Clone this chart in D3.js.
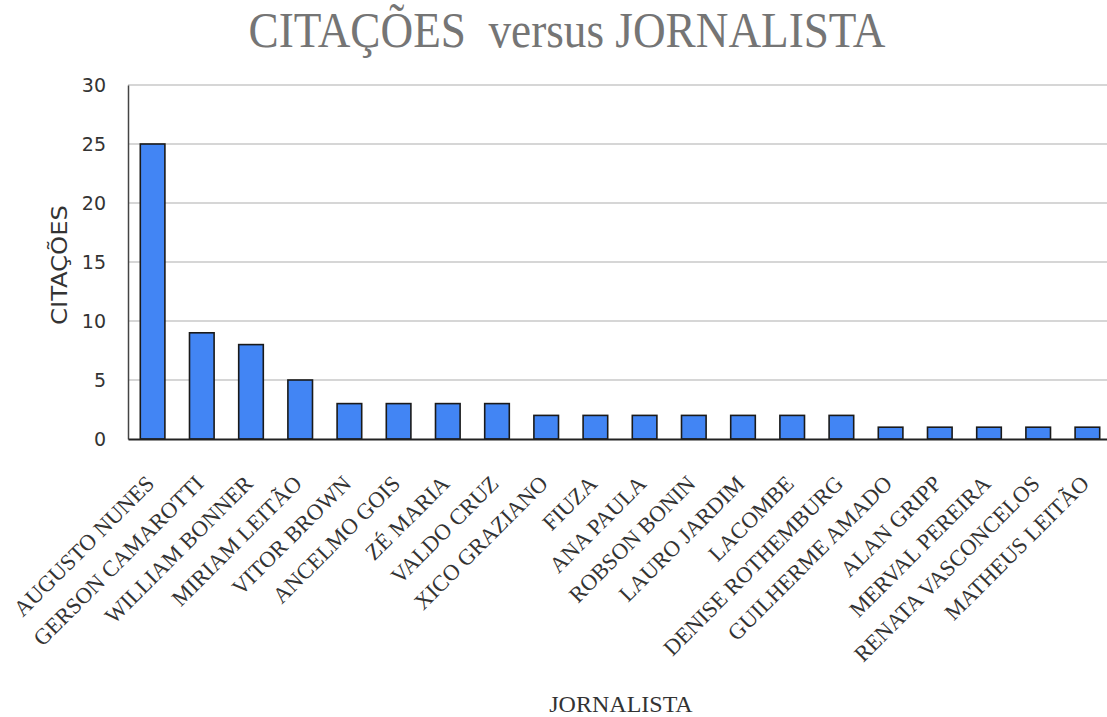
<!DOCTYPE html>
<html><head><meta charset="utf-8">
<script src="https://cdn.jsdelivr.net/npm/d3@7"></script>
<style>body{margin:0;background:#fff}svg{display:block}</style>
</head><body>
<svg id="c" width="1107" height="717"></svg>
<script>
const categories = ["AUGUSTO NUNES","GERSON CAMAROTTI","WILLIAM BONNER","MIRIAM LEITÃO","VITOR BROWN","ANCELMO GOIS","ZÉ MARIA","VALDO CRUZ","XICO GRAZIANO","FIUZA","ANA PAULA","ROBSON BONIN","LAURO JARDIM","LACOMBE","DENISE ROTHEMBURG","GUILHERME AMADO","ALAN GRIPP","MERVAL PEREIRA","RENATA VASCONCELOS","MATHEUS LEITÃO"];
const values = [25,9,8,5,3,3,3,3,2,2,2,2,2,2,2,1,1,1,1,1];
const yTicks = [0,5,10,15,20,25,30];
const title = "CITAÇÕES  versus JORNALISTA";
const xTitle = "JORNALISTA";
const yTitle = "CITAÇÕES";

const svg = d3.select("#c");
const L = 128, R = 1112, T = 85, B = 439;
const x = d3.scaleBand().domain(categories).range([L, R]).paddingInner(0.5).paddingOuter(0.25);
const y = d3.scaleLinear().domain([0, 30]).range([B, T]);

// gridlines
svg.append("g").selectAll("line").data(yTicks.filter(d => d > 0)).join("line")
  .attr("x1", L).attr("x2", R).attr("y1", d => y(d)).attr("y2", d => y(d))
  .attr("stroke", "#c8c8c8").attr("stroke-width", 1.5);

// y axis
const ya = svg.append("g").attr("transform", `translate(${L},0)`)
  .call(d3.axisLeft(y).tickValues(yTicks).tickSize(0).tickPadding(22));
ya.select(".domain").attr("stroke", "#444").attr("stroke-width", 1.5);
ya.selectAll("text").attr("font-family", "DejaVu Sans").attr("font-size", 19).attr("fill", "#333");

// bars
svg.append("g").selectAll("rect").data(values).join("rect")
  .attr("x", (d, i) => x(categories[i])).attr("width", x.bandwidth())
  .attr("y", d => y(d)).attr("height", d => B - y(d))
  .attr("fill", "#4285f4").attr("stroke", "#1a1a1a").attr("stroke-width", 1.6);

// x axis
const xa = svg.append("g").attr("transform", `translate(0,${B})`)
  .call(d3.axisBottom(x).tickSize(0).tickPadding(0));
xa.select(".domain").attr("stroke", "#222").attr("stroke-width", 2);
xa.selectAll("text")
  .attr("font-family", "Liberation Serif").attr("font-size", 22.5).attr("fill", "#333")
  .attr("text-anchor", "end").attr("dy", 0)
  .attr("transform", "translate(3,46) rotate(-45)");

// titles
svg.append("text").attr("x", 567).attr("y", 47).attr("text-anchor", "middle")
  .attr("font-family", "Liberation Serif").attr("font-size", 50).attr("fill", "#757575")
  .attr("textLength", 637).attr("lengthAdjust", "spacingAndGlyphs")
  .style("white-space", "pre").text(title);
svg.append("text").attr("x", 621).attr("y", 712).attr("text-anchor", "middle")
  .attr("font-family", "Liberation Serif").attr("font-size", 24).attr("fill", "#333").text(xTitle);
svg.append("text").attr("transform", "translate(67,265) rotate(-90)").attr("text-anchor", "middle")
  .attr("font-family", "DejaVu Sans Condensed, DejaVu Sans").attr("font-size", 22).attr("fill", "#333")
  .attr("textLength", 120).attr("lengthAdjust", "spacingAndGlyphs").text(yTitle);
</script>
</body></html>
